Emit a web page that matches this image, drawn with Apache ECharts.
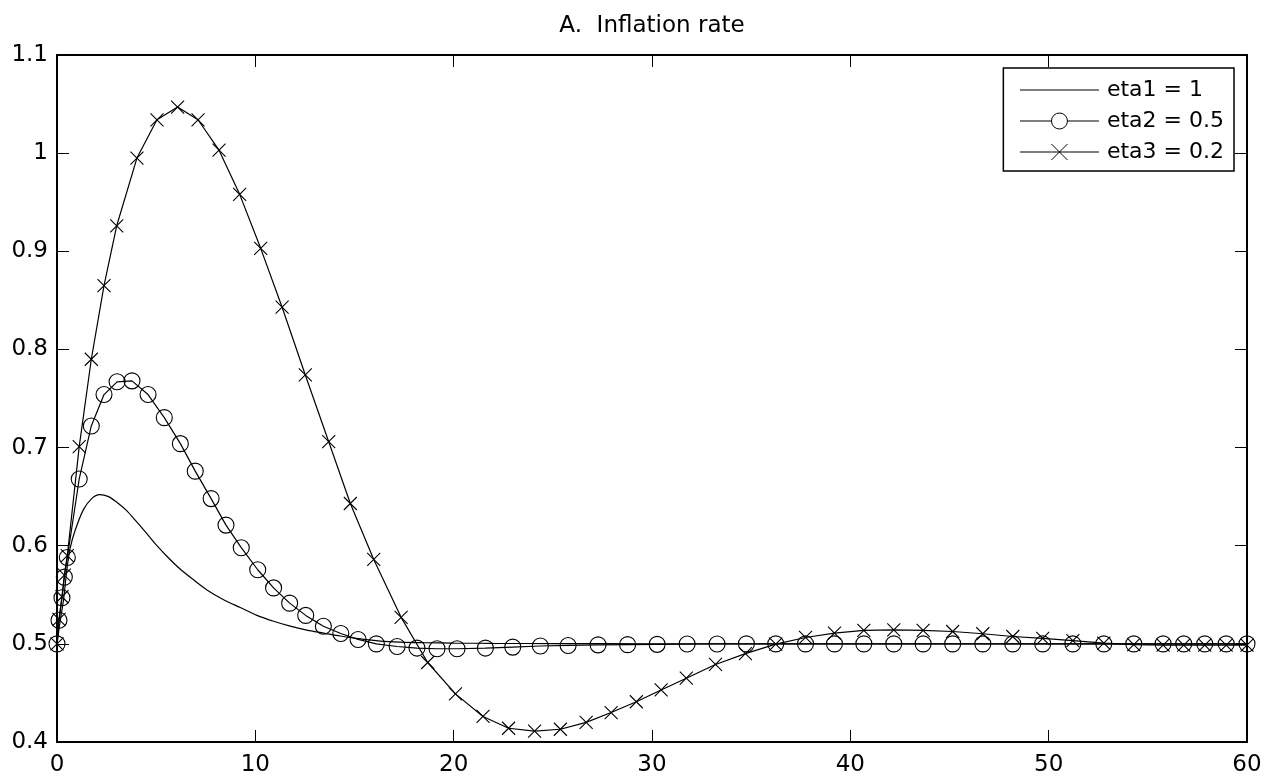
<!DOCTYPE html>
<html><head><meta charset="utf-8">
<script src="https://cdn.jsdelivr.net/npm/echarts@6/dist/echarts.min.js"></script>
<style>html,body{margin:0;padding:0;background:#fff}#c{width:1268px;height:781px}</style>
</head><body><div id="c"></div>
<script>
const titleText = 'A.  Inflation rate';
const seriesNames = ['eta1 = 1', 'eta2 = 0.5', 'eta3 = 0.2'];
const xMin = 0, xMax = 60, xStep = 10;
const yMin = 0.4, yMax = 1.1, yStep = 0.1;

const eta1T = [0, 0.15, 0.33, 0.5, 0.67, 0.92, 1.34, 1.75, 2.15, 2.6, 3.03, 3.5, 4.03, 4.5, 5.04, 5.6, 6.22, 6.9, 7.56, 8.4, 9.24, 10.08, 10.92, 11.76, 12.6, 13.45, 14.29, 15.3, 16.3, 17.3, 18.5, 20, 22, 25, 30, 40, 50, 60];
const eta1Y = [0.5, 0.522, 0.545, 0.576, 0.598, 0.616, 0.637, 0.648, 0.652, 0.650, 0.644, 0.636, 0.624, 0.613, 0.600, 0.588, 0.576, 0.565, 0.555, 0.545, 0.537, 0.529, 0.523, 0.518, 0.514, 0.511, 0.508, 0.505, 0.5028, 0.5018, 0.5012, 0.5008, 0.5005, 0.5003, 0.5001, 0.5, 0.5, 0.5];

const eta2T = [0, 0.1, 0.25, 0.37, 0.52, 1.12, 1.73, 2.37, 3.03, 3.78, 4.59, 5.41, 6.22, 6.97, 7.77, 8.52, 9.29, 10.12, 10.92, 11.73, 12.54, 13.43, 14.31, 15.18, 16.10, 17.15, 18.15, 19.16, 20.17, 21.6, 22.98, 24.37, 25.77, 27.28, 28.77, 30.26, 31.77, 33.28, 34.76, 36.24, 37.74, 39.2, 40.68, 42.19, 43.67, 45.16, 46.68, 48.19, 49.7, 51.22, 52.78, 54.29, 55.77, 56.81, 57.87, 58.95, 60];
const eta2Y = [0.5, 0.524, 0.547, 0.568, 0.588, 0.668, 0.722, 0.754, 0.767, 0.768, 0.754, 0.7305, 0.704, 0.676, 0.648, 0.621, 0.598, 0.5755, 0.557, 0.5415, 0.529, 0.518, 0.5105, 0.5045, 0.5, 0.4973, 0.4957, 0.495, 0.495, 0.4957, 0.4967, 0.4978, 0.4984, 0.499, 0.4992, 0.4995, 0.4998, 0.4999, 0.5, 0.5, 0.5, 0.5, 0.5, 0.5, 0.5, 0.5, 0.5, 0.5, 0.5, 0.5, 0.5, 0.5, 0.5, 0.5, 0.5, 0.5, 0.5];

const eta3T = [0, 0.1, 0.25, 0.37, 0.52, 1.12, 1.73, 2.37, 3.01, 4.03, 5.04, 6.08, 7.11, 8.17, 9.21, 10.27, 11.35, 12.52, 13.70, 14.79, 15.97, 17.35, 18.69, 20.09, 21.48, 22.77, 24.08, 25.38, 26.68, 27.94, 29.21, 30.46, 31.73, 33.20, 34.71, 36.24, 37.74, 39.2, 40.68, 42.19, 43.67, 45.16, 46.68, 48.19, 49.7, 51.22, 52.78, 54.29, 55.77, 56.81, 57.87, 58.95, 60];
const eta3Y = [0.5, 0.525, 0.548, 0.570, 0.590, 0.701, 0.790, 0.865, 0.926, 0.995, 1.034, 1.047, 1.034, 1.003, 0.958, 0.903, 0.843, 0.774, 0.706, 0.643, 0.586, 0.527, 0.481, 0.449, 0.426, 0.414, 0.411, 0.413, 0.420, 0.430, 0.441, 0.453, 0.465, 0.479, 0.490, 0.4998, 0.5065, 0.511, 0.5137, 0.5143, 0.5137, 0.5126, 0.5103, 0.5075, 0.5055, 0.5032, 0.5008, 0.4993, 0.4988, 0.4988, 0.4988, 0.4988, 0.4988];

function pairs(t, y) { return t.map((v, i) => [v, y[i]]); }

const FONT = 'DejaVu Sans, Liberation Sans, Arial, sans-serif';
const crossPath = 'path://M0,0L10,10M10,0L0,10';

const axisCommon = {
  axisLine: { show: true, onZero: false, lineStyle: { color: '#000', width: 2 } },
  axisTick: { show: true, inside: true, length: 12, lineStyle: { color: '#000', width: 1 } },
  splitLine: { show: false }
};

const chart = echarts.init(document.getElementById('c'), null, { renderer: 'canvas' });
chart.setOption({
  animation: false,
  backgroundColor: '#fff',
  title: {
    text: titleText, left: 652, top: 15, textAlign: 'center', padding: 0,
    textStyle: { fontFamily: FONT, fontSize: 23, fontWeight: 'normal', color: '#000' }
  },
  grid: { left: 57, right: 21, top: 55, bottom: 39, containLabel: false },
  legend: {
    orient: 'vertical', right: 34, top: 68,
    padding: [11, 10, 8, 16],
    backgroundColor: '#fff', borderColor: '#000', borderWidth: 1.5,
    itemWidth: 79, itemHeight: 20, itemGap: 9,
    textStyle: { fontFamily: FONT, fontSize: 22, lineHeight: 22, color: '#000', padding: [0, 0, 0, 3] },
    itemStyle: { color: '#fff', borderColor: '#000', borderWidth: 1 },
    lineStyle: { color: '#000', width: 1.2 },
    data: [
      { name: seriesNames[0], itemStyle: { opacity: 0 } },
      { name: seriesNames[1] },
      { name: seriesNames[2], itemStyle: { color: 'none' } }
    ]
  },
  xAxis: [
    Object.assign({ type: 'value', position: 'bottom', min: xMin, max: xMax, interval: xStep,
      axisLabel: { show: true, margin: 12, color: '#000', fontFamily: FONT, fontSize: 23 } }, axisCommon),
    Object.assign({ type: 'value', position: 'top', min: xMin, max: xMax, interval: xStep,
      axisLabel: { show: false } }, axisCommon)
  ],
  yAxis: [
    Object.assign({ type: 'value', position: 'left', min: yMin, max: yMax, interval: yStep,
      axisLabel: { show: true, margin: 9, color: '#000', fontFamily: FONT, fontSize: 23 } }, axisCommon),
    Object.assign({ type: 'value', position: 'right', min: yMin, max: yMax, interval: yStep,
      axisLabel: { show: false } }, axisCommon)
  ],
  series: [
    {
      name: seriesNames[0], type: 'line', data: pairs(eta1T, eta1Y),
      symbol: 'none', smooth: 0.3, color: '#000',
      lineStyle: { color: '#000', width: 1.2 }
    },
    {
      name: seriesNames[1], type: 'line', data: pairs(eta2T, eta2Y),
      symbol: 'circle', symbolSize: 16, color: '#000',
      itemStyle: { color: 'none', borderColor: '#000', borderWidth: 1.1 },
      lineStyle: { color: '#000', width: 1.2 }
    },
    {
      name: seriesNames[2], type: 'line', data: pairs(eta3T, eta3Y),
      symbol: crossPath, symbolSize: 13, color: '#000',
      itemStyle: { color: 'none', borderColor: '#000', borderWidth: 1.1 },
      lineStyle: { color: '#000', width: 1.2 }
    }
  ]
});
</script></body></html>
